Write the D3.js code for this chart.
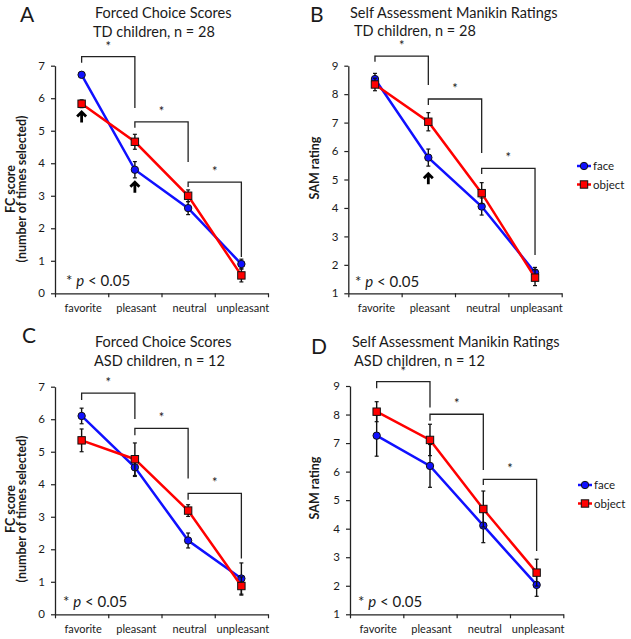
<!DOCTYPE html>
<html><head><meta charset="utf-8">
<script src="https://cdn.jsdelivr.net/npm/d3@7"></script>
<style>
body{margin:0;background:#fff}
svg{display:block}
text{font-family:Lato,"Open Sans",sans-serif;fill:#1a1a1a}
</style>
</head><body>
<svg id="chart" width="631" height="639"></svg>
<script>
// ---------- data ----------
const categories = ["favorite", "pleasant", "neutral", "unpleasant"];
const seriesNames = ["face", "object"];

// A: Forced Choice Scores, TD children
const fcTD_face      = [6.72, 3.80, 2.62, 0.90];
const fcTD_faceErr   = [0.06, 0.25, 0.20, 0.15];
const fcTD_object    = [5.83, 4.66, 3.00, 0.55];
const fcTD_objectErr = [0.12, 0.23, 0.18, 0.20];

// B: SAM ratings, TD children
const samTD_face      = [8.53, 5.77, 4.05, 1.73];
const samTD_faceErr   = [0.20, 0.30, 0.30, 0.18];
const samTD_object    = [8.34, 7.03, 4.52, 1.55];
const samTD_objectErr = [0.22, 0.32, 0.37, 0.28];

// C: Forced Choice Scores, ASD children
const fcASD_face      = [6.10, 4.52, 2.27, 1.10];
const fcASD_faceErr   = [0.24, 0.28, 0.23, 0.48];
const fcASD_object    = [5.35, 4.77, 3.19, 0.87];
const fcASD_objectErr = [0.35, 0.50, 0.18, 0.28];

// D: SAM ratings, ASD children
const samASD_face      = [7.26, 6.20, 4.11, 2.03];
const samASD_faceErr   = [0.72, 0.75, 0.60, 0.40];
const samASD_object    = [8.10, 7.11, 4.69, 2.46];
const samASD_objectErr = [0.35, 0.55, 0.63, 0.47];

// y tick labels
const fcTicks  = [0, 1, 2, 3, 4, 5, 6, 7];
const samTicks = [1, 2, 3, 4, 5, 6, 7, 8, 9];

// significance brackets: [top, left-leg end, right-leg end] in data units (between adjacent categories)
const fcTD_brackets   = [[7.28, 7.09, 5.70], [5.27, 5.09, 4.04], [3.42, 3.27, 1.12]];
const samTD_brackets  = [[9.34, 9.14, 8.32], [7.83, 7.62, 5.93], [5.39, 5.19, 2.35]];
const fcASD_brackets  = [[6.80, 6.59, 6.01], [5.72, 5.51, 4.18], [3.72, 3.52, 1.72]];
const samASD_brackets = [[9.15, 8.92, 8.25], [8.01, 7.78, 6.06], [5.73, 5.53, 3.22]];

// arrows: category index, value of arrow tip
const fcTD_arrows  = [[0, 5.59], [1, 3.43]];
const samTD_arrows = [[1, 5.22]];

// ---------- layout ----------
const colors = {face: "#1010ff", object: "#ff0000"};

const panels = [
  {letter: "A", lx: 20, ly: 22, title: ["Forced Choice Scores", "TD children, n = 28"],
   t1: [95, 18], t2: [93, 37], x0: 55, x1: 268, yTop: 65.7, yBot: 293.3,
   domain: [0, 7], ticks: fcTicks, ylab: ["FC score", "(number of times selected)"], ylabX: [15, 25.5], ylabY: 189,
   face: fcTD_face, faceErr: fcTD_faceErr, object: fcTD_object, objectErr: fcTD_objectErr,
   brackets: fcTD_brackets, arrows: fcTD_arrows, pX: 66, pY: 286, legend: null},
  {letter: "B", lx: 310, ly: 22, title: ["Self Assessment Manikin Ratings", "TD children, n = 28"],
   t1: [350, 17.5], t2: [354, 36], x0: 348.3, x1: 561.7, yTop: 65.7, yBot: 293.3,
   domain: [1, 9], ticks: samTicks, ylab: ["SAM rating"], ylabX: [319], ylabY: 168,
   face: samTD_face, faceErr: samTD_faceErr, object: samTD_object, objectErr: samTD_objectErr,
   brackets: samTD_brackets, arrows: samTD_arrows, pX: 355, pY: 287, legend: [584, 166, 18.5]},
  {letter: "C", lx: 22, ly: 343, title: ["Forced Choice Scores", "ASD children, n = 12"],
   t1: [95, 346.5], t2: [94, 366], x0: 55, x1: 268, yTop: 386.7, yBot: 614.3,
   domain: [0, 7], ticks: fcTicks, ylab: ["FC score", "(number of times selected)"], ylabX: [15, 25.5], ylabY: 509,
   face: fcASD_face, faceErr: fcASD_faceErr, object: fcASD_object, objectErr: fcASD_objectErr,
   brackets: fcASD_brackets, arrows: [], pX: 63, pY: 606.5, legend: null},
  {letter: "D", lx: 311, ly: 354, title: ["Self Assessment Manikin Ratings", "ASD children, n = 12"],
   t1: [352, 347], t2: [354, 366], x0: 350, x1: 563.3, yTop: 386, yBot: 614.3,
   domain: [1, 9], ticks: samTicks, ylab: ["SAM rating"], ylabX: [319], ylabY: 488,
   face: samASD_face, faceErr: samASD_faceErr, object: samASD_object, objectErr: samASD_objectErr,
   brackets: samASD_brackets, arrows: [], pX: 358, pY: 607, legend: [585, 485, 18.5]}
];

const svg = d3.select("#chart");

panels.forEach(p => {
  const g = svg.append("g");
  const x = d3.scaleBand().domain(categories).range([p.x0, p.x1]).padding(0);
  const xb = d3.scaleLinear().domain([0, categories.length]).range([p.x0, p.x1]);
  const y = d3.scaleLinear().domain(p.domain).range([p.yBot, p.yTop]);
  const cx = c => x(c) + x.bandwidth() / 2;

  // panel letter + title
  g.append("text").attr("x", p.lx).attr("y", p.ly).style("font-size", "21px").text(p.letter);
  g.append("text").attr("x", p.t1[0]).attr("y", p.t1[1]).style("font-size", "14.5px").text(p.title[0]);
  g.append("text").attr("x", p.t2[0]).attr("y", p.t2[1]).style("font-size", "14.5px").text(p.title[1]);

  // axes
  const ya = g.append("g").attr("transform", `translate(${p.x0},0)`)
    .call(d3.axisLeft(y).tickValues(p.ticks).tickFormat(d3.format("d")).tickSize(4).tickSizeOuter(0).tickPadding(6));
  ya.select(".domain").attr("stroke", "#222").attr("stroke-width", 1.3);
  ya.selectAll(".tick line").attr("stroke", "#222").attr("stroke-width", 1.2);
  ya.selectAll(".tick text").style("font-size", "11.5px").style("font-family", "Lato,'Open Sans',sans-serif").attr("fill", "#333");

  const xa = g.append("g").attr("transform", `translate(0,${p.yBot})`)
    .call(d3.axisBottom(xb).tickValues(d3.range(categories.length + 1)).tickFormat("").tickSize(4).tickSizeOuter(0));
  xa.select(".domain").attr("stroke", "#222").attr("stroke-width", 1.3);
  xa.selectAll(".tick line").attr("stroke", "#222").attr("stroke-width", 1.2);

  g.selectAll(".xlab").data(categories).enter().append("text")
    .attr("x", d => cx(d) + 1.5).attr("y", p.yBot + 18.5)
    .attr("text-anchor", "middle").style("font-size", "11px").attr("fill", "#333").text(d => d);

  // y axis label
  p.ylab.forEach((t, i) => {
    g.append("text").attr("transform", `translate(${p.ylabX[i]},${p.ylabY}) rotate(-90)`)
      .attr("text-anchor", "middle").style("font-size", "12.5px").style("font-weight", "bold").text(t);
  });

  // brackets
  p.brackets.forEach((b, i) => {
    const xl = cx(categories[i]), xr = cx(categories[i + 1]);
    g.append("path")
      .attr("d", `M${xl},${y(b[1])}V${y(b[0])}H${xr}V${y(b[2])}`)
      .attr("fill", "none").attr("stroke", "#222").attr("stroke-width", 1.3);
    g.append("text").attr("x", (xl + xr) / 2).attr("y", y(b[0]) - 6)
      .attr("text-anchor", "middle").style("font-size", "13px").text("*");
  });

  // series
  seriesNames.forEach(s => {
    const vals = p[s], errs = p[s + "Err"];
    const pts = categories.map((c, i) => ({c, v: vals[i], e: errs[i]}));
    g.append("path").datum(pts)
      .attr("d", d3.line().x(d => cx(d.c)).y(d => y(d.v)))
      .attr("fill", "none").attr("stroke", colors[s]).attr("stroke-width", 2.5);
    const eb = g.selectAll(null).data(pts).enter().append("g");
    eb.append("line").attr("x1", d => cx(d.c)).attr("x2", d => cx(d.c))
      .attr("y1", d => y(d.v - d.e)).attr("y2", d => y(d.v + d.e)).attr("stroke", "#111").attr("stroke-width", 1.4);
    eb.append("line").attr("x1", d => cx(d.c) - 2).attr("x2", d => cx(d.c) + 2)
      .attr("y1", d => y(d.v - d.e)).attr("y2", d => y(d.v - d.e)).attr("stroke", "#111").attr("stroke-width", 1.2);
    eb.append("line").attr("x1", d => cx(d.c) - 2).attr("x2", d => cx(d.c) + 2)
      .attr("y1", d => y(d.v + d.e)).attr("y2", d => y(d.v + d.e)).attr("stroke", "#111").attr("stroke-width", 1.2);
    pts.forEach(d => drawMarker(g, s, cx(d.c), y(d.v)));
  });

  // arrows
  p.arrows.forEach(a => {
    const ax = cx(categories[a[0]]), ay = y(a[1]);
    g.append("path").attr("d", `M${ax},${ay + 11}V${ay + 1}M${ax - 4.5},${ay + 5}L${ax},${ay + 0.5}L${ax + 4.5},${ay + 5}`)
      .attr("fill", "none").attr("stroke", "#000").attr("stroke-width", 2.8).attr("stroke-linejoin", "miter");
  });

  // p-value note
  const pt = g.append("text").attr("x", p.pX).attr("y", p.pY).style("font-size", "15px");
  pt.append("tspan").text("* ");
  pt.append("tspan").style("font-style", "italic").text("p");
  pt.append("tspan").text(" < 0.05");

  // legend
  if (p.legend) {
    const [lx, ly, dy] = p.legend;
    seriesNames.forEach((s, i) => {
      const yy = ly + i * dy;
      g.append("line").attr("x1", lx - 7).attr("x2", lx + 7).attr("y1", yy).attr("y2", yy)
        .attr("stroke", colors[s]).attr("stroke-width", 2.5);
      drawMarker(g, s, lx, yy);
      g.append("text").attr("x", lx + 9).attr("y", yy + 4).style("font-size", "11.5px").text(s);
    });
  }
});

function drawMarker(g, s, px, py) {
  if (s === "face") {
    g.append("circle").attr("cx", px).attr("cy", py).attr("r", 3.7)
      .attr("fill", colors.face).attr("stroke", "#111").attr("stroke-width", 1);
  } else {
    g.append("rect").attr("x", px - 3.7).attr("y", py - 3.7).attr("width", 7.4).attr("height", 7.4)
      .attr("fill", colors.object).attr("stroke", "#111").attr("stroke-width", 1);
  }
}
</script>
</body></html>
